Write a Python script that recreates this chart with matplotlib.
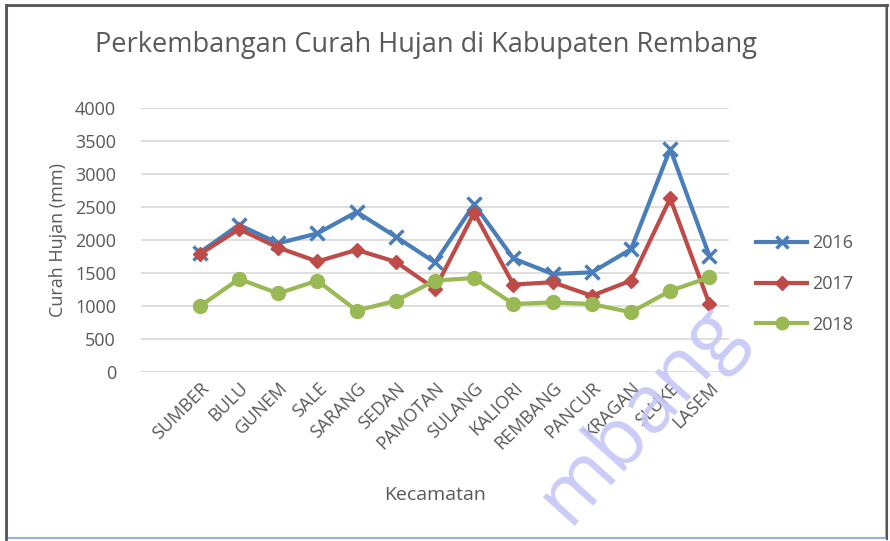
import matplotlib
matplotlib.use("Agg")
import matplotlib.pyplot as plt
from matplotlib.patches import Rectangle
from matplotlib.lines import Line2D

kecamatan = ["SUMBER", "BULU", "GUNEM", "SALE", "SARANG", "SEDAN", "PAMOTAN",
             "SULANG", "KALIORI", "REMBANG", "PANCUR", "KRAGAN", "SLUKE", "LASEM"]
hujan_2016 = [1810, 2230, 1950, 2100, 2425, 2050, 1660, 2540, 1720, 1485, 1510, 1860, 3380, 1760]
hujan_2017 = [1785, 2165, 1885, 1675, 1850, 1670, 1260, 2415, 1325, 1360, 1155, 1385, 2630, 1030]
hujan_2018 = [995, 1410, 1190, 1385, 930, 1080, 1385, 1425, 1030, 1055, 1030, 905, 1230, 1435]
yticks = [0, 500, 1000, 1500, 2000, 2500, 3000, 3500, 4000]

plt.rcParams['font.family'] = ['Open Sans', 'DejaVu Sans']
grey = '#595959'

fig = plt.figure(figsize=(8.9, 5.41), dpi=100)
ax = fig.add_axes([141/890, 1-372/541, (729-141)/890, (372-108)/541])

x = list(range(len(kecamatan)))
ax.plot(x, hujan_2016, color='#4A7EBB', lw=3, marker='x', ms=10, mew=2.5, label='2016', zorder=3)
ax.plot(x, hujan_2017, color='#BE4B48', lw=3, marker='D', ms=7, label='2017', zorder=4)
ax.plot(x, hujan_2018, color='#98B954', lw=3, marker='o', ms=10, label='2018', zorder=5)

ax.set_xlim(-1.5, 13.5)
ax.set_ylim(0, 4000)
ax.set_yticks(yticks)
ax.set_yticklabels([str(v) for v in yticks], fontsize=13, color=grey)
ax.set_xticks(x)
ax.set_xticklabels(kecamatan, rotation=45, ha='right', va='top', rotation_mode='anchor',
                   fontsize=13, color=grey)
ax.tick_params(length=0)
ax.tick_params(axis='x', pad=5)
ax.tick_params(axis='y', pad=18)
ax.grid(axis='y', color='#D9D9D9', lw=1.2)
ax.set_axisbelow(True)
for s in ax.spines.values():
    s.set_visible(False)

ax.set_ylabel('Curah Hujan (mm)', fontsize=13, color=grey, labelpad=6)
fig.text(435/890, 1-495/541, 'Kecamatan', ha='center', va='center', fontsize=14, color=grey)
fig.text(426/890, 1-45/541, 'Perkembangan Curah Hujan di Kabupaten Rembang',
         ha='center', va='center', fontsize=19.5, color=grey)

handles = [Line2D([], [], color='#4A7EBB', lw=3, marker='x', ms=9, mew=2.5),
           Line2D([], [], color='#BE4B48', lw=3, marker='D', ms=7),
           Line2D([], [], color='#98B954', lw=3, marker='o', ms=9)]
leg = fig.legend(handles, ['2016', '2017', '2018'], loc='center left',
                 bbox_to_anchor=(740/890, 1-284/541), frameon=False, fontsize=13,
                 handlelength=2.8, labelspacing=1.25, handletextpad=0.3)
for t in leg.get_texts():
    t.set_color(grey)

# watermark
fig.text(640/890, 1-415/541, 'mbang', rotation=48, fontsize=58, color='#C6C6F8',
         ha='center', va='center', zorder=10, alpha=0.9)

# frame
fig.patches.append(Rectangle((7/890, 3/541), 879/890, 532/541, transform=fig.transFigure,
                             fill=False, edgecolor='#95B3D7', lw=1.5))
fig.lines.append(Line2D([6/890, 887/890], [1-5/541, 1-5/541], transform=fig.transFigure,
                        color='#555555', lw=2))
fig.lines.append(Line2D([6/890, 6/890], [2/541, 1-5/541], transform=fig.transFigure,
                        color='#555555', lw=2))
fig.lines.append(Line2D([887/890, 887/890], [2/541, 1-5/541], transform=fig.transFigure,
                        color='#555555', lw=1.5))

fig.savefig('out.png', dpi=100)
